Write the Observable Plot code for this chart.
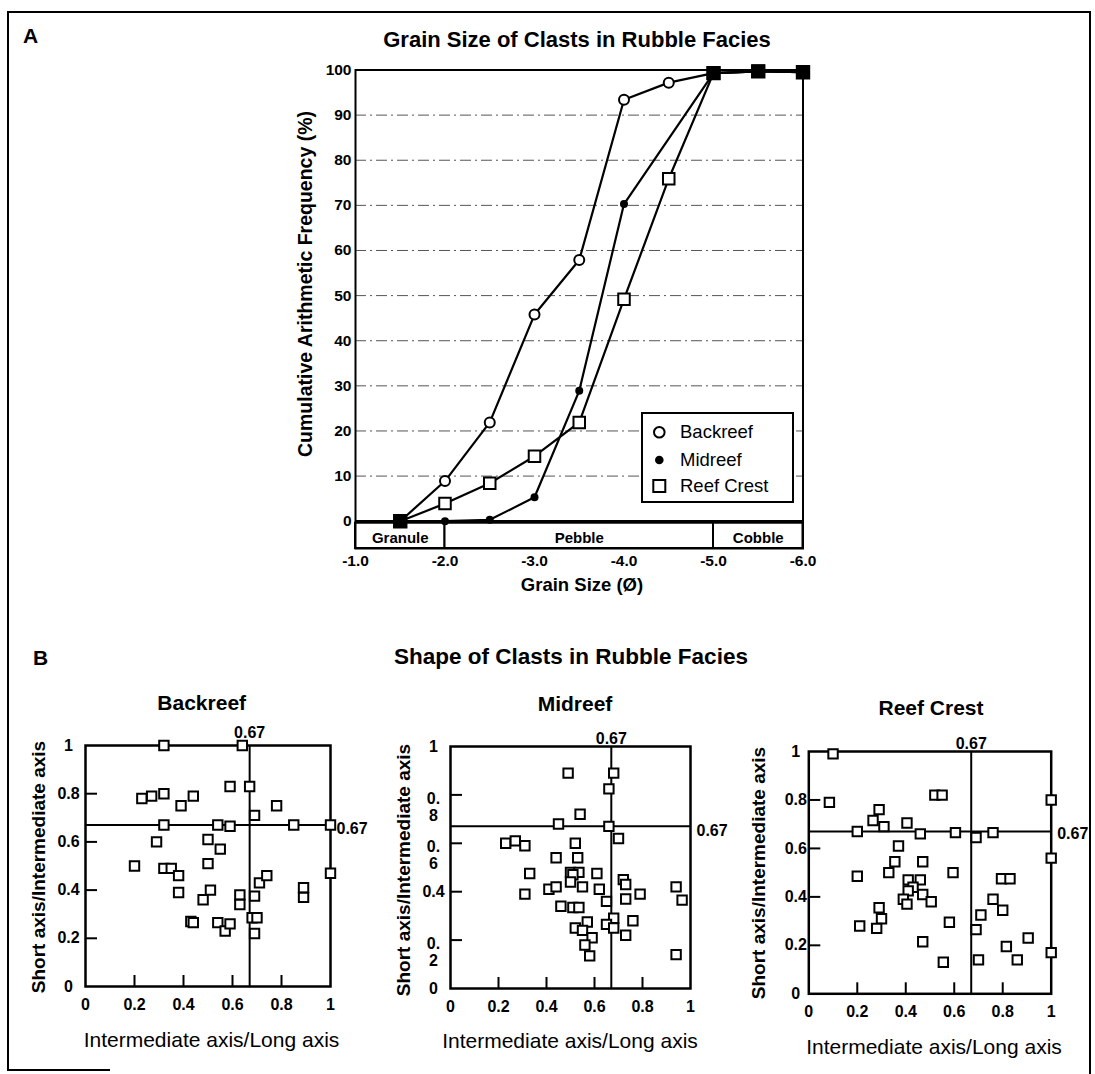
<!DOCTYPE html>
<html><head><meta charset="utf-8">
<script src="https://cdn.jsdelivr.net/npm/d3@7"></script>
<script src="https://cdn.jsdelivr.net/npm/@observablehq/plot@0.6"></script>
<style>
body{margin:0;background:#fff;}
#page{position:relative;width:1095px;height:1074px;background:#fff;overflow:hidden;font-family:'Liberation Sans',Arial,Helvetica,sans-serif;color:#000;}
.t{position:absolute;white-space:nowrap;line-height:1;}
.ln{position:absolute;background:#000;}
</style></head><body><div id="page"></div><script>
const FONT = "'Liberation Sans', Arial, Helvetica, sans-serif";

// ---------- Panel A data ----------
const grainTicks = [-1, -2, -3, -4, -5, -6];
const freqTicks = [0, 10, 20, 30, 40, 50, 60, 70, 80, 90, 100];
const gridLevels = [10, 20, 30, 40, 50, 60, 70, 80, 90];
const classNames = ["Granule", "Pebble", "Cobble"];
const classFrom = [-1, -2, -5];
const classTo = [-2, -5, -6];

const backreefPhi = [-1.5, -2.0, -2.5, -3.0, -3.5, -4.0, -4.5, -5.0, -5.5, -6.0];
const backreefFreq = [0, 8.9, 21.9, 45.8, 57.9, 93.4, 97.2, 99.3, 99.7, 99.5];
const midreefPhi = [-1.5, -2.0, -2.5, -3.0, -3.5, -4.0, -5.0, -5.5, -6.0];
const midreefFreq = [0, 0, 0.3, 5.3, 28.9, 70.3, 99.3, 99.7, 99.5];
const reefCrestPhi = [-1.5, -2.0, -2.5, -3.0, -3.5, -4.0, -4.5, -5.0, -5.5, -6.0];
const reefCrestFreq = [0, 3.9, 8.4, 14.4, 21.9, 49.2, 75.9, 99.3, 99.7, 99.5];

const seriesNames = ["Backreef", "Midreef", "Reef Crest"];

// ---------- Panel B data: [intermediate/long, short/intermediate] ----------
const threshold = 0.67;
const ratioTicks = [0, 0.2, 0.4, 0.6, 0.8, 1];
const innerTicks = [0.2, 0.4, 0.6, 0.8];
const yTickLabelsStd = ["0", "0.2", "0.4", "0.6", "0.8", "1"];
const yTickLabelsMid = ["0", "0.\n2", "0.4", "0.\n6", "0.\n8", "1"];

const backreefShape = [
  [0.32,1.0],[0.64,1.0],
  [0.23,0.78],[0.27,0.79],[0.32,0.80],[0.39,0.75],[0.44,0.79],[0.59,0.83],[0.67,0.83],[0.69,0.71],[0.78,0.75],
  [0.32,0.67],[0.54,0.67],[0.59,0.665],[0.85,0.67],[1.0,0.67],
  [0.29,0.60],[0.50,0.61],[0.55,0.57],[0.20,0.50],[0.32,0.49],[0.35,0.49],[0.38,0.46],[0.38,0.39],
  [0.50,0.51],[0.51,0.40],[0.48,0.36],[0.63,0.38],[0.63,0.34],[0.69,0.375],[0.71,0.43],[0.74,0.46],
  [1.0,0.47],[0.89,0.41],[0.89,0.37],
  [0.43,0.27],[0.44,0.265],[0.54,0.265],[0.57,0.23],[0.59,0.26],[0.68,0.285],[0.70,0.285],[0.69,0.22]
];
const midreefShape = [
  [0.49,0.89],[0.68,0.89],[0.66,0.825],[0.54,0.72],[0.45,0.68],[0.66,0.67],[0.70,0.62],
  [0.23,0.60],[0.27,0.61],[0.31,0.59],[0.52,0.60],[0.53,0.54],[0.44,0.54],[0.33,0.475],
  [0.50,0.48],[0.535,0.48],[0.51,0.47],[0.50,0.44],[0.55,0.42],[0.61,0.475],[0.62,0.41],
  [0.41,0.41],[0.44,0.42],[0.31,0.39],[0.46,0.34],[0.51,0.335],[0.535,0.335],[0.65,0.36],
  [0.72,0.45],[0.73,0.43],[0.73,0.37],[0.79,0.39],[0.94,0.42],[0.965,0.365],
  [0.57,0.275],[0.52,0.25],[0.55,0.24],[0.59,0.21],[0.56,0.18],[0.58,0.135],
  [0.68,0.29],[0.65,0.265],[0.68,0.25],[0.76,0.28],[0.73,0.22],[0.94,0.14]
];
const reefCrestShape = [
  [0.10,0.99],[0.085,0.79],[1.0,0.80],[0.52,0.82],[0.55,0.82],[0.29,0.76],[0.265,0.715],[0.31,0.69],
  [0.405,0.705],[0.20,0.67],[0.46,0.66],[0.605,0.665],[0.69,0.645],[0.76,0.665],[1.0,0.56],
  [0.37,0.61],[0.355,0.545],[0.47,0.545],[0.33,0.50],[0.20,0.485],[0.595,0.50],[0.41,0.47],
  [0.46,0.47],[0.43,0.44],[0.41,0.425],[0.47,0.41],[0.39,0.39],[0.405,0.37],[0.505,0.38],
  [0.29,0.355],[0.30,0.31],[0.21,0.28],[0.28,0.27],[0.58,0.295],[0.47,0.215],[0.555,0.13],
  [0.69,0.265],[0.71,0.325],[0.70,0.14],[0.795,0.475],[0.83,0.475],[0.76,0.39],[0.80,0.345],
  [0.815,0.195],[0.86,0.14],[0.905,0.23],[1.0,0.17]
];

// ---------- helpers ----------
const page = document.getElementById("page");
function place(svg, left, top) {
  svg.style.position = "absolute";
  svg.style.left = left + "px";
  svg.style.top = top + "px";
  svg.style.overflow = "visible";
  svg.style.background = "transparent";
  svg.style.maxWidth = "none";
  page.appendChild(svg);
}
function txt(s, x, y, o = {}) {
  const d = document.createElement("div");
  d.className = "t";
  d.textContent = s;
  d.style.left = x + "px";
  d.style.top = y + "px";
  d.style.fontSize = (o.size || 16) + "px";
  d.style.fontWeight = o.weight || "bold";
  const ax = o.anchor === "start" ? "0" : "-50%";
  d.style.transform = `translate(${ax},-50%)` + (o.rotate ? ` rotate(${o.rotate}deg)` : "");
  page.appendChild(d);
  return d;
}
function ln(x, y, w, h) {
  const d = document.createElement("div");
  d.className = "ln";
  Object.assign(d.style, {left: x + "px", top: y + "px", width: w + "px", height: h + "px"});
  page.appendChild(d);
}

// ---------- Panel A plot ----------
const toRows = (phi, f) => phi.map((p, i) => ({phi: p, f: f[i]}));
const back = toRows(backreefPhi, backreefFreq);
const mid = toRows(midreefPhi, midreefFreq);
const crest = toRows(reefCrestPhi, reefCrestFreq);
const coincide = crest.filter(c =>
  mid.some(m => m.phi === c.phi && Math.abs(m.f - c.f) < 0.01) &&
  back.some(b => b.phi === c.phi && Math.abs(b.f - c.f) < 0.01));
const classes = classNames.map((name, i) => ({name, x1: classFrom[i], x2: classTo[i], mid: (classFrom[i] + classTo[i]) / 2}));
const Y_BOTTOM = -6.05, BAR_TOP = -0.45;

const plotA = Plot.plot({
  width: 1095, height: 600,
  marginLeft: 355, marginRight: 292.5, marginTop: 69.5, marginBottom: 52,
  style: {fontFamily: FONT, fontWeight: "bold", fontSize: "15.5px", color: "black"},
  x: {domain: [-1, -6]},
  y: {domain: [Y_BOTTOM, 100]},
  marks: [
    Plot.ruleY(gridLevels, {stroke: "#555", strokeWidth: 1, strokeDasharray: "11,4,2,4"}),
    Plot.rect(classes, {x1: "x1", x2: "x2", y1: Y_BOTTOM, y2: BAR_TOP, fill: "white", stroke: "black", strokeWidth: 2}),
    Plot.text(classes, {x: "mid", y: (Y_BOTTOM + BAR_TOP) / 2, text: "name", fontSize: 15, fontWeight: "bold", dy: 2}),
    Plot.ruleY([0], {stroke: "black", strokeWidth: 2.5}),
    Plot.frame({stroke: "black", strokeWidth: 2}),
    Plot.line(back, {x: "phi", y: "f", stroke: "black", strokeWidth: 2.2}),
    Plot.line(mid, {x: "phi", y: "f", stroke: "black", strokeWidth: 2.2}),
    Plot.line(crest, {x: "phi", y: "f", stroke: "black", strokeWidth: 2.2}),
    Plot.dot(crest, {x: "phi", y: "f", symbol: "square", r: 6.5, fill: "white", stroke: "black", strokeWidth: 2}),
    Plot.dot(back, {x: "phi", y: "f", symbol: "circle", r: 5, fill: "white", stroke: "black", strokeWidth: 2}),
    Plot.dot(mid, {x: "phi", y: "f", symbol: "circle", r: 4, fill: "black", stroke: "none"}),
    Plot.dot(coincide, {x: "phi", y: "f", symbol: "square", r: 7, fill: "black", stroke: "black", strokeWidth: 2}),
    Plot.axisX({ticks: grainTicks, tickFormat: d => d.toFixed(1), tickSize: 0, tickPadding: 6, fontSize: 15.5, fontWeight: "bold", label: null}),
    Plot.axisY({ticks: freqTicks, tickFormat: d => String(d), tickSize: 0, tickPadding: 4, fontSize: 15.5, fontWeight: "bold", label: null})
  ]
});
place(plotA, 0, 0);

// ---------- Panel B plots ----------
function shapePanel(data, o) {
  const plotW = o.w - o.ml - o.mr, plotH = o.h - o.mt - o.mb;
  const labels = o.labels.map((label, i) => ({v: ratioTicks[i], label, multi: label.includes("\n")}));
  return Plot.plot({
    width: o.w, height: o.h,
    marginLeft: o.ml, marginRight: o.mr, marginTop: o.mt, marginBottom: o.mb,
    style: {fontFamily: FONT, fontWeight: "bold", fontSize: "16px", color: "black"},
    x: {domain: [0, 1], axis: null},
    y: {domain: [0, 1], axis: null},
    marks: [
      Plot.tickX(innerTicks, {x: d => d, insetTop: plotH - 11, stroke: "black", strokeWidth: 2}),
      Plot.tickY(innerTicks, {y: d => d, insetRight: plotW - 12, stroke: "black", strokeWidth: 2}),
      Plot.ruleX([threshold], {x: d => d, y1: 0, y2: 1, stroke: "black", strokeWidth: 2}),
      Plot.ruleY([threshold], {y: d => d, x1: 0, x2: 1, stroke: "black", strokeWidth: 2}),
      Plot.frame({stroke: "black", strokeWidth: 2.5}),
      Plot.dot(data, {x: d => d[0], y: d => d[1], symbol: "square", r: 5.3, fill: "white", stroke: "black", strokeWidth: 2}),
      Plot.text([threshold], {x: d => d, y: 1, dy: o.topDy, text: d => String(d), fontSize: 16, fontWeight: "bold"}),
      Plot.text([threshold], {x: 1, y: d => d, dx: 6, dy: o.rightDy, textAnchor: "start", text: d => String(d), fontSize: 16, fontWeight: "bold"}),
      Plot.text(labels.filter(d => !d.multi), {x: 0, y: "v", text: "label", dx: -o.labelDx, textAnchor: "middle", lineAnchor: "middle", fontSize: 16, fontWeight: "bold"}),
      Plot.text(labels.filter(d => d.multi), {x: 0, y: "v", text: "label", dx: -o.labelDx, dy: -3, textAnchor: "middle", lineAnchor: "top", lineHeight: 1.05, fontSize: 16, fontWeight: "bold"}),
      Plot.text(ratioTicks, {x: d => d, y: 0, text: d => String(d), dy: 12, lineAnchor: "top", fontSize: 16, fontWeight: "bold"})
    ]
  });
}

place(shapePanel(backreefShape, {w: 315, h: 300, ml: 40, mr: 30, mt: 25, mb: 34, labels: yTickLabelsStd, labelDx: 17, topDy: -13, rightDy: 4}), 45, 720);
place(shapePanel(midreefShape, {w: 330, h: 300, ml: 40, mr: 50, mt: 26, mb: 32, labels: yTickLabelsMid, labelDx: 17, topDy: -8, rightDy: 5}), 410, 720);
place(shapePanel(reefCrestShape, {w: 322, h: 310, ml: 40.3, mr: 39.3, mt: 31, mb: 36.7, labels: yTickLabelsStd, labelDx: 13, topDy: -8, rightDy: 2}), 768, 720);

// ---------- page frame ----------
ln(7, 11, 1084, 2);
ln(7, 11, 2, 1060);
ln(1089, 11, 2, 1063);
ln(7, 1069, 103, 2);

// ---------- texts ----------
txt("A", 23, 34.5, {size: 21, anchor: "start"});
txt("Grain Size of Clasts in Rubble Facies", 577, 40, {size: 22});
txt("Cumulative Arithmetic Frequency (%)", 305.5, 284, {size: 19.5, rotate: -90});
txt("Grain Size (Ø)", 582, 585, {size: 18.5});

txt("B", 33, 657, {size: 21, anchor: "start"});
txt("Shape of Clasts in Rubble Facies", 571, 657, {size: 22.5});

txt(seriesNames[0], 201.7, 701.7, {size: 21});
txt(seriesNames[1], 575, 703.3, {size: 21});
txt(seriesNames[2], 931, 707.3, {size: 21});

txt("Short axis/Intermediate axis", 38, 867, {size: 19, rotate: -90});
txt("Short axis/Intermediate axis", 403, 870, {size: 19, rotate: -90});
txt("Short axis/Intermediate axis", 758, 873, {size: 19, rotate: -90});

txt("Intermediate axis/Long axis", 211.5, 1039, {size: 21, weight: "normal"});
txt("Intermediate axis/Long axis", 570, 1040, {size: 21, weight: "normal"});
txt("Intermediate axis/Long axis", 934, 1046, {size: 21, weight: "normal"});

// ---------- legend ----------
const lg = document.createElement("div");
Object.assign(lg.style, {position: "absolute", left: "641px", top: "412px", width: "149px", height: "87px", border: "2px solid #000", background: "#fff"});
page.appendChild(lg);
const legendY = [432.3, 460, 486];
const ns = "http://www.w3.org/2000/svg";
const lsvg = document.createElementNS(ns, "svg");
lsvg.setAttribute("width", 1095); lsvg.setAttribute("height", 600);
Object.assign(lsvg.style, {position: "absolute", left: "0px", top: "0px", overflow: "visible"});
const sym = [
  `<circle cx="659.3" cy="${legendY[0]}" r="5.3" fill="white" stroke="black" stroke-width="2"/>`,
  `<circle cx="659.3" cy="${legendY[1]}" r="4.3" fill="black"/>`,
  `<rect x="653.3" y="${legendY[2] - 6}" width="12" height="12" fill="white" stroke="black" stroke-width="2"/>`
];
lsvg.innerHTML = sym.join("");
page.appendChild(lsvg);
seriesNames.forEach((s, i) => txt(s, 680, legendY[i], {size: 18.5, weight: "normal", anchor: "start"}));
</script></body></html>
